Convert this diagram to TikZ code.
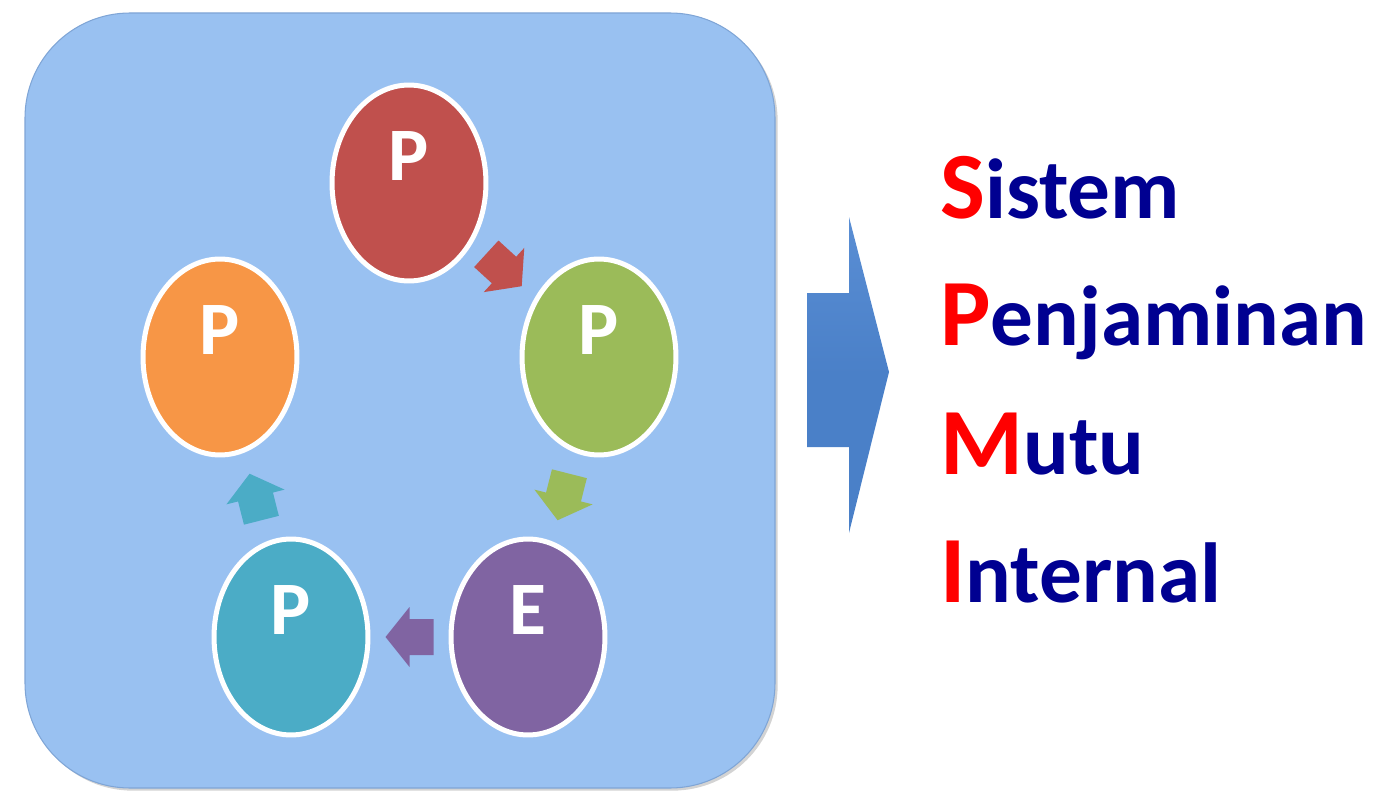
\documentclass[tikz,border=0pt]{standalone}
\usepackage{fontspec}
\setmainfont{Carlito}
\usepackage{xcolor}
\usepackage{tikz}
\usetikzlibrary{shapes.geometric, calc, shadows}
\definecolor{panelblue}{HTML}{99C1F1}
\definecolor{paneledge}{HTML}{7FA5D6}
\definecolor{ppred}{HTML}{C0504D}
\definecolor{ppgreen}{HTML}{9BBB59}
\definecolor{pppurple}{HTML}{8064A2}
\definecolor{ppteal}{HTML}{4BACC6}
\definecolor{pporange}{HTML}{F79646}
\definecolor{bigblue}{HTML}{4A80C8}
\definecolor{bigbluetop}{HTML}{5A8ED4}
\definecolor{initred}{HTML}{FF0000}
\definecolor{wordnavy}{HTML}{000091}
\newcommand{\capinit}[1]{{\fontsize{54}{54}\selectfont\color{initred}#1}}

\begin{document}
\begin{tikzpicture}[
  x=0.02cm, y=-0.02cm,
  panel/.style={fill=panelblue, draw=paneledge, line width=0.6pt, rounded corners=2.1cm,
    drop shadow={shadow xshift=1.5pt, shadow yshift=-1.5pt, opacity=0.35}},
  stage/.style={ellipse, draw=white, line width=0.1cm, minimum width=3.08cm, minimum height=3.92cm, inner sep=0pt},
  stageletter/.style={font=\fontsize{43}{43}\selectfont\bfseries, text=white, inner sep=0pt},
  word/.style={font=\fontsize{48.5}{48.5}\selectfont\bfseries, text=wordnavy, inner sep=0pt, anchor=base west},
  flowarrow/.pic={\path[pic actions] (-24,-18) -- (0,-18) -- (0,-30) -- (24,0) -- (0,30) -- (0,18) -- (-24,18) -- cycle;},
]
  \useasboundingbox (0,0) rectangle (1380,794);

  % Panel
  \path[panel] (25,13) rectangle (775,788);

  % Cycle stages
  \foreach \name/\x/\y/\col/\txt in {penetapan/409/183/ppred/P, pelaksanaan/599/357/ppgreen/P, evaluasi/528/637/pppurple/E, pengendalian/291/637/ppteal/P, peningkatan/220/357/pporange/P} {
    \node[stage, fill=\col] (\name) at (\x,\y) {};
    \node[stageletter] at ([yshift=0.54cm]\name.center) {\txt};
  }

  % Arrows between stages
  \foreach \a/\b/\col in {penetapan/pelaksanaan/ppred, pelaksanaan/evaluasi/ppgreen, evaluasi/pengendalian/pppurple, pengendalian/peningkatan/ppteal} {
    \path let \p1=($(\b)-(\a)$), \n1={atan2(\y1,\x1)} in
      ($(\a)!0.5!(\b)$) pic[fill=\col, rotate=\n1] {flowarrow};
  }

  % Big arrow
  \shade[top color=bigbluetop, bottom color=bigblue, middle color=bigblue] (807,293) -- (849,293) -- (849,217) -- (889,372) -- (849,533) -- (849,447) -- (807,447) -- cycle;

  % Text
  \foreach \y/\c/\w in {218/S/istem, 345/P/enjaminan, 474/M/utu, 602/I/nternal} {
    \node[word] (line\c) at (940,\y) {\capinit{\c}\w};
  }
\end{tikzpicture}
\end{document}
